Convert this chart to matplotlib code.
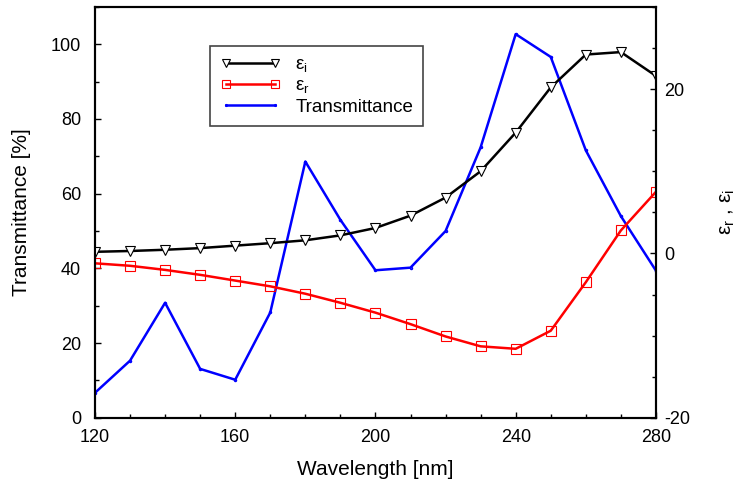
import matplotlib.pyplot as plt
from matplotlib.ticker import MultipleLocator
import numpy as np

plt.rcParams['font.family'] = ['Liberation Sans', 'DejaVu Sans']
plt.rcParams['axes.unicode_minus'] = False

wavelength = [120, 130, 140, 150, 160, 170, 180, 190, 200,
              210, 220, 230, 240, 250, 260, 270, 280]
transmittance = [6.7, 15.3, 30.8, 13.1, 10.2, 28.2, 68.6, 53.0, 39.5,
                 40.2, 50.0, 72.4, 102.7, 96.6, 71.6, 54.0, 39.4]
eps_i = [0.2, 0.3, 0.45, 0.65, 0.95, 1.25, 1.6, 2.2, 3.1,
         4.6, 6.8, 10.0, 14.7, 20.2, 24.2, 24.5, 21.6]
eps_r = [-1.2, -1.5, -2.0, -2.6, -3.3, -4.0, -4.9, -6.0, -7.2,
         -8.6, -10.1, -11.3, -11.6, -9.4, -3.5, 2.8, 7.5]

fig = plt.figure(figsize=(7.42, 4.91), dpi=100)
ax = fig.add_axes([0.128, 0.149, 0.756, 0.837])
ax2 = ax.twinx()

ln_t, = ax.plot(wavelength, transmittance, color='blue', lw=1.8,
                marker='o', ms=1.5, mfc='none', label='Transmittance')
ln_i, = ax2.plot(wavelength, eps_i, color='black', lw=1.8, marker='v',
                 ms=7, mfc='white', mec='black', mew=0.8,
                 label='ε$_\\mathregular{i}$')
ln_r, = ax2.plot(wavelength, eps_r, color='red', lw=1.8, marker='s',
                 ms=7, mfc='none', mec='red', mew=0.8,
                 label='ε$_\\mathregular{r}$')

ax.set_xlim(120, 280)
ax.set_ylim(0, 110)
ax2.set_ylim(-20, 30)
ax.xaxis.set_major_locator(MultipleLocator(40))
ax.xaxis.set_minor_locator(MultipleLocator(10))
ax.yaxis.set_major_locator(MultipleLocator(20))
ax.yaxis.set_minor_locator(MultipleLocator(10))
ax2.yaxis.set_major_locator(MultipleLocator(20))
ax2.yaxis.set_minor_locator(MultipleLocator(5))

for a in (ax, ax2):
    a.tick_params(which='both', direction='in', labelsize=13, width=1)
    a.tick_params(which='major', length=4)
    a.tick_params(which='minor', length=3)
    for s in a.spines.values():
        s.set_linewidth(1.5)
ax.tick_params(axis='y', right=False, pad=10)
ax.tick_params(axis='x', pad=8)
ax2.tick_params(axis='y', pad=6)

ax.set_xlabel('Wavelength [nm]', fontsize=15, labelpad=10)
ax.set_ylabel('Transmittance [%]', fontsize=15, labelpad=14)
ax2.set_ylabel('ε$_\\mathregular{r}$ , ε$_\\mathregular{i}$', fontsize=15,
               labelpad=34, rotation=90, va='bottom')

leg = ax.legend([ln_i, ln_r, ln_t], [ln_i.get_label(), ln_r.get_label(), 'Transmittance'],
                loc='upper left', bbox_to_anchor=(0.205, 0.905), fontsize=13.5,
                fancybox=False, framealpha=1, edgecolor='#444444',
                handlelength=3.2, borderpad=0.55, labelspacing=0.15,
                borderaxespad=0, numpoints=2, markerscale=0.85)
leg.get_frame().set_linewidth(1.2)

fig.savefig('out.png', dpi=100)
